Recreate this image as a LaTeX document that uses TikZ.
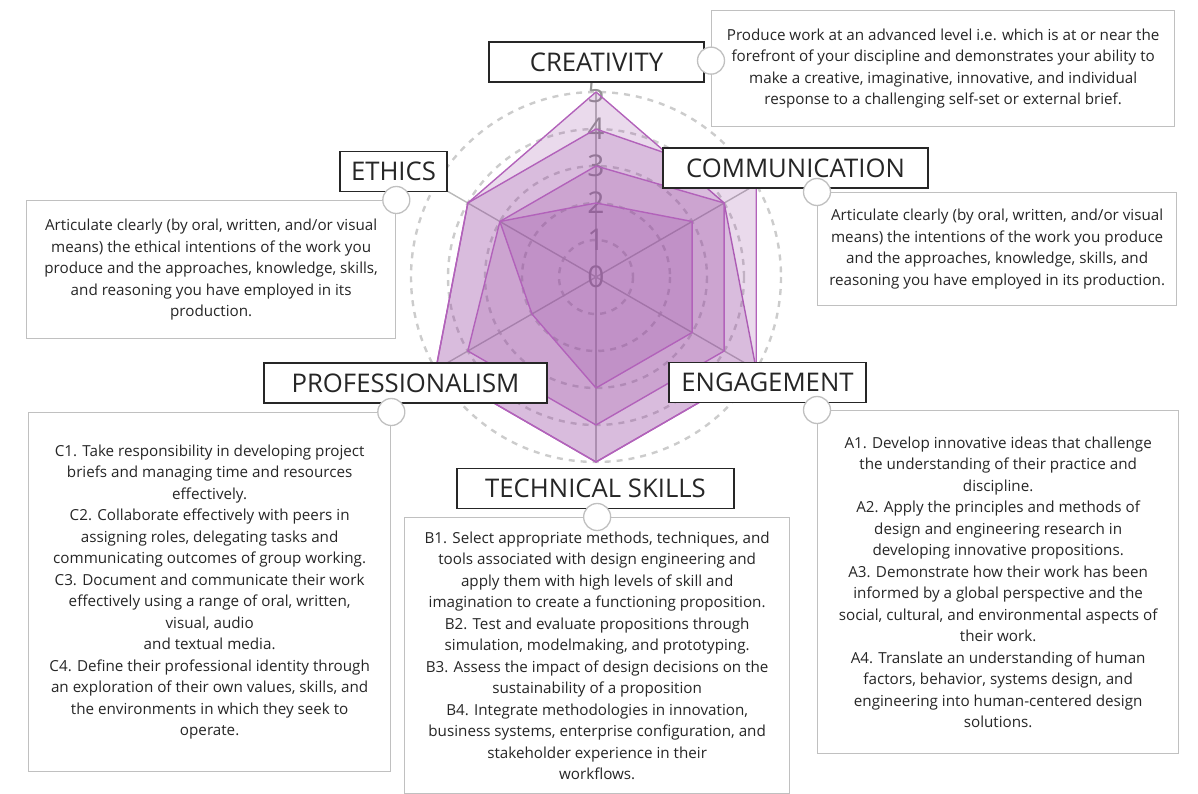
\documentclass[tikz,border=0pt]{standalone}
\usepackage{fontspec}
\setmainfont{Open Sans}
\usetikzlibrary{calc}
\definecolor{spider}{RGB}{150,70,160}
\definecolor{spiderline}{RGB}{178,98,186}
\definecolor{boxgray}{RGB}{192,192,192}
\definecolor{ink}{RGB}{38,38,38}

\begin{document}
\begin{tikzpicture}[x=1pt, y=-1pt,
  axislabel/.style={draw=ink, line width=1.4pt, fill=white, text=ink,
    font=\fontsize{25.7}{30}\selectfont, inner sep=0pt, minimum height=40pt},
  info/.style={draw=boxgray, line width=1.3pt, fill=white, text=ink, align=center,
    font=\fontsize{15.2}{21.5}\selectfont, inner sep=0pt, anchor=north west},
  knob/.style={circle, draw=boxgray, line width=1.3pt, fill=white, minimum size=27pt, inner sep=0pt},
  ring/.style={draw=gray!40, dash pattern=on 6pt off 6pt, line width=2.4pt},
  spoke/.style={draw=gray!55, line width=1.4pt},
  tick/.style={text=black!42, font=\fontsize{30}{30}\selectfont, inner sep=0pt},
  series/.style={draw=spiderline, line width=1.4pt, fill=spider, fill opacity=0.2, line join=round}]
  \useasboundingbox (0,0) rectangle (1198,794);
  \coordinate (O) at (596,277);

  \foreach \k in {1,...,5}
    \draw[ring] (O) circle (37*\k);
  \foreach \ang in {-90,-30,30,90,150,210}
    \draw[spoke] (O) -- ++(\ang:185);
  \foreach \k in {0,...,5}
    \path (O) ++(0,-37*\k) node[tick] (T\k) {\k};

  \foreach \a/\b/\c/\d/\e/\f in {5/4/5/5/5/4, 4/5/5/5/5/4, 3/4/4/4/4/3, 2/3/3/3/2/3}
    \draw[series] ($(O)+(-90:37*\a)$) -- ($(O)+(-30:37*\b)$) -- ($(O)+(30:37*\c)$)
      -- ($(O)+(90:37*\d)$) -- ($(O)+(150:37*\e)$) -- ($(O)+(210:37*\f)$) -- cycle;

  \node[axislabel, minimum width=215pt] (L1) at (596.5,62)  {CREATIVITY};
  \node[axislabel, minimum width=265pt] (L2) at (795.5,168) {COMMUNICATION};
  \node[axislabel, minimum width=197pt] (L3) at (767.5,382.5) {ENGAGEMENT};
  \node[axislabel, minimum width=277pt] (L4) at (595.5,488.5) {TECHNICAL SKILLS};
  \node[axislabel, minimum width=283pt] (L5) at (405.5,383) {PROFESSIONALISM};
  \node[axislabel, minimum width=107pt] (L6) at (393.5,171.5) {ETHICS};

  \node[info, minimum width=463pt, minimum height=116pt] (D1) at (711,10)
    {Produce work at an advanced level i.e. which is at or near the\\
     forefront of your discipline and demonstrates your ability to\\
     make a creative, imaginative, innovative, and individual\\
     response to a challenging self-set or external brief.};
  \node[info, minimum width=359pt, minimum height=113pt] (D2) at (817,192)
    {Articulate clearly (by oral, written, and/or visual\\
     means) the intentions of the work you produce\\
     and the approaches, knowledge, skills, and\\
     reasoning you have employed in its production.};
  \node[info, minimum width=361pt, minimum height=343pt] (D3) at (817,410)
    {A1. Develop innovative ideas that challenge\\
     the understanding of their practice and\\
     discipline.\\
     A2. Apply the principles and methods of\\
     design and engineering research in\\
     developing innovative propositions.\\
     A3. Demonstrate how their work has been\\
     informed by a global perspective and the\\
     social, cultural, and environmental aspects of\\
     their work.\\
     A4. Translate an understanding of human\\
     factors, behavior, systems design, and\\
     engineering into human-centered design\\
     solutions.};
  \node[info, minimum width=385pt, minimum height=276pt] (D4) at (404,517)
    {B1. Select appropriate methods, techniques, and\\
     tools associated with design engineering and\\
     apply them with high levels of skill and\\
     imagination to create a functioning proposition.\\
     B2. Test and evaluate propositions through\\
     simulation, modelmaking, and prototyping.\\
     B3. Assess the impact of design decisions on the\\
     sustainability of a proposition\\
     B4. Integrate methodologies in innovation,\\
     business systems, enterprise configuration, and\\
     stakeholder experience in their\\
     workflows.};
  \node[info, minimum width=362pt, minimum height=359pt] (D5) at (28,412)
    {C1. Take responsibility in developing project\\
     briefs and managing time and resources\\
     effectively.\\
     C2. Collaborate effectively with peers in\\
     assigning roles, delegating tasks and\\
     communicating outcomes of group working.\\
     C3. Document and communicate their work\\
     effectively using a range of oral, written,\\
     visual, audio\\
     and textual media.\\
     C4. Define their professional identity through\\
     an exploration of their own values, skills, and\\
     the environments in which they seek to\\
     operate.};
  \node[info, minimum width=369pt, minimum height=138pt] (D6) at (26,200)
    {Articulate clearly (by oral, written, and/or visual\\
     means) the ethical intentions of the work you\\
     produce and the approaches, knowledge, skills,\\
     and reasoning you have employed in its\\
     production.};

  \node[knob] (K1) at ([yshift=8pt]D1.west) {};
  \node[knob] (K2) at (D2.north west) {};
  \node[knob] (K3) at (D3.north west) {};
  \node[knob] (K4) at (D4.north) {};
  \node[knob] (K5) at (D5.north east) {};
  \node[knob] (K6) at (D6.north east) {};
\end{tikzpicture}
\end{document}
